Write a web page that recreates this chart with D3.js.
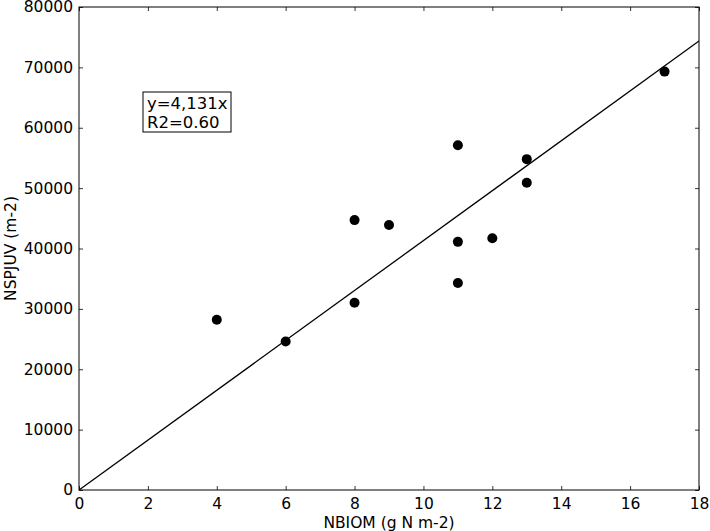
<!DOCTYPE html>
<html>
<head>
<meta charset="utf-8">
<script src="https://cdn.jsdelivr.net/npm/d3@7"></script>
<style>
  body { margin: 0; background: #fff; }
  text { font-family: "DejaVu Sans", sans-serif; fill: #000; }
</style>
</head>
<body>
<div id="chart"></div>
<script>
// measured data: nitrogen biomass vs juvenile density
const nbiom  = [4, 6, 8, 8, 9, 11, 11, 11, 12, 13, 13, 17];
const nspjuv = [28200, 24600, 44700, 31000, 43900, 57100, 41100, 34300, 41700, 54800, 50900, 69300];
const slope = 4131;
const fitLabel = ["y=4,131x", "R2=0.60"];
const xTicks = [0, 2, 4, 6, 8, 10, 12, 14, 16, 18];
const yTicks = [0, 10000, 20000, 30000, 40000, 50000, 60000, 70000, 80000];

const width = 710, height = 531;
const margin = { top: 7, right: 11, bottom: 41, left: 79 };
const w = width - margin.left - margin.right,
      h = height - margin.top - margin.bottom;

const svg = d3.select("#chart").append("svg")
    .attr("width", width)
    .attr("height", height);

const g = svg.append("g")
    .attr("transform", "translate(" + margin.left + "," + margin.top + ")");

const x = d3.scaleLinear().domain([0, 18]).range([0, w]);
const y = d3.scaleLinear().domain([0, 80000]).range([h, 0]);

const tickLen = 4;

// ticks on all four sides, pointing inward (matplotlib classic)
function styleAxis(sel) {
  sel.select(".domain").remove();
  sel.selectAll(".tick line").attr("stroke", "#000").attr("stroke-width", 0.8);
  sel.selectAll(".tick text").style("font-size", "15.5px");
}

g.append("g")
    .attr("transform", "translate(0," + h + ")")
    .call(d3.axisBottom(x).tickValues(xTicks).tickSizeInner(-tickLen).tickSizeOuter(0).tickPadding(8))
    .call(styleAxis);

g.append("g")
    .call(d3.axisLeft(y).tickValues(yTicks).tickSizeInner(-tickLen).tickSizeOuter(0).tickPadding(6).tickFormat(d3.format("d")))
    .call(styleAxis);

g.append("g")
    .call(d3.axisTop(x).tickValues(xTicks).tickSizeInner(-tickLen).tickSizeOuter(0).tickFormat(""))
    .call(styleAxis);

g.append("g")
    .attr("transform", "translate(" + w + ",0)")
    .call(d3.axisRight(y).tickValues(yTicks).tickSizeInner(-tickLen).tickSizeOuter(0).tickFormat(""))
    .call(styleAxis);

// frame
g.append("rect")
    .attr("width", w)
    .attr("height", h)
    .attr("fill", "none")
    .attr("stroke", "#000")
    .attr("stroke-width", 1);

// regression line through origin
g.append("clipPath").attr("id", "clip")
  .append("rect").attr("width", w).attr("height", h);

g.append("line")
    .attr("clip-path", "url(#clip)")
    .attr("x1", x(0)).attr("y1", y(0))
    .attr("x2", x(18)).attr("y2", y(slope * 18))
    .attr("stroke", "#000")
    .attr("stroke-width", 1.3);

g.selectAll("circle.pt")
    .data(nbiom.map((d, i) => [d, nspjuv[i]]))
  .enter().append("circle")
    .attr("class", "pt")
    .attr("cx", d => x(d[0]))
    .attr("cy", d => y(d[1]))
    .attr("r", 5)
    .attr("fill", "#000");

// fit annotation box
const box = g.append("g").attr("transform", "translate(" + (143 - margin.left) + "," + (92 - margin.top) + ")");
box.append("rect")
    .attr("width", 88)
    .attr("height", 40)
    .attr("fill", "#fff")
    .attr("stroke", "#000")
    .attr("stroke-width", 1);
box.selectAll("text")
    .data(fitLabel)
  .enter().append("text")
    .attr("x", 4)
    .attr("y", (d, i) => 17 + i * 19)
    .style("font-size", "16.5px")
    .text(d => d);

// axis labels
svg.append("text")
    .attr("x", margin.left + w / 2)
    .attr("y", height - 3)
    .attr("text-anchor", "middle")
    .style("font-size", "15.5px")
    .text("NBIOM (g N m-2)");

svg.append("text")
    .attr("transform", "translate(16," + (margin.top + h / 2) + ") rotate(-90)")
    .attr("text-anchor", "middle")
    .style("font-size", "15.5px")
    .text("NSPJUV (m-2)");
</script>
</body>
</html>
